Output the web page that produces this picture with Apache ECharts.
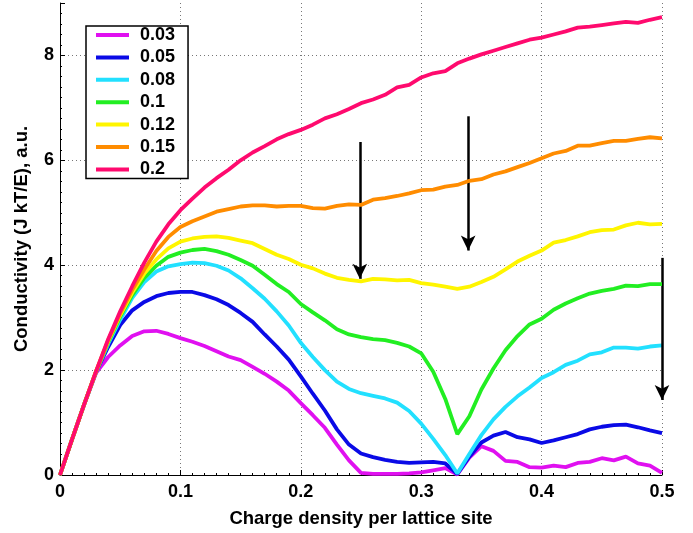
<!DOCTYPE html>
<html>
<head>
<meta charset="utf-8">
<script src="https://cdn.jsdelivr.net/npm/echarts@6/dist/echarts.min.js"></script>
<style>
  html, body { margin: 0; padding: 0; background: #fff; }
  #chart { width: 693px; height: 533px; }
</style>
</head>
<body>
<div id="chart"></div>
<script>
// charge density per lattice site (sample points)
const density = [
  0, 0.01, 0.02, 0.03, 0.04, 0.05, 0.06, 0.07, 0.08, 0.09,
  0.1, 0.11, 0.12, 0.13, 0.14, 0.15, 0.16, 0.17, 0.18, 0.19,
  0.2, 0.21, 0.22, 0.23, 0.24, 0.25, 0.26, 0.27, 0.28, 0.29,
  0.3, 0.31, 0.32, 0.33, 0.34, 0.35, 0.36, 0.37, 0.38, 0.39,
  0.4, 0.41, 0.42, 0.43, 0.44, 0.45, 0.46, 0.47, 0.48, 0.49, 0.5
];

const seriesNames = ['0.03', '0.05', '0.08', '0.1', '0.12', '0.15', '0.2'];
const seriesColors = ['#e010f0', '#0a0ae6', '#22e0ff', '#22ee22', '#fff500', '#ff8c00', '#ff0a6e'];

const cond003 = [0, 0.68, 1.34, 1.95, 2.25, 2.47, 2.65, 2.74, 2.75, 2.69, 2.61, 2.54, 2.46, 2.36, 2.26, 2.19, 2.06, 1.93, 1.78, 1.61, 1.37, 1.14, 0.90, 0.58, 0.28, 0.04, 0.02, 0.02, 0.02, 0.03, 0.05, 0.09, 0.13, 0.01, 0.33, 0.55, 0.46, 0.27, 0.25, 0.15, 0.14, 0.18, 0.15, 0.23, 0.25, 0.32, 0.28, 0.35, 0.22, 0.18, 0.04];
const cond005 = [0, 0.68, 1.34, 1.97, 2.44, 2.86, 3.14, 3.30, 3.41, 3.47, 3.49, 3.49, 3.43, 3.35, 3.24, 3.09, 2.92, 2.68, 2.45, 2.20, 1.88, 1.55, 1.23, 0.87, 0.58, 0.41, 0.34, 0.29, 0.25, 0.23, 0.24, 0.25, 0.22, 0.02, 0.35, 0.62, 0.75, 0.82, 0.72, 0.68, 0.61, 0.66, 0.72, 0.78, 0.87, 0.92, 0.95, 0.96, 0.91, 0.85, 0.80];
const cond008 = [0, 0.68, 1.34, 1.97, 2.50, 2.96, 3.38, 3.68, 3.88, 3.98, 4.02, 4.05, 4.04, 3.99, 3.90, 3.75, 3.56, 3.36, 3.12, 2.85, 2.52, 2.25, 2.00, 1.78, 1.64, 1.56, 1.51, 1.46, 1.38, 1.22, 0.98, 0.69, 0.38, 0.03, 0.40, 0.76, 1.06, 1.30, 1.50, 1.67, 1.85, 1.96, 2.10, 2.18, 2.30, 2.34, 2.43, 2.43, 2.41, 2.45, 2.47];
const cond010 = [0, 0.68, 1.34, 1.97, 2.53, 3.02, 3.43, 3.76, 3.99, 4.16, 4.24, 4.29, 4.31, 4.27, 4.20, 4.10, 3.99, 3.82, 3.64, 3.49, 3.26, 3.10, 2.95, 2.78, 2.68, 2.63, 2.59, 2.57, 2.52, 2.45, 2.32, 1.97, 1.45, 0.78, 1.12, 1.63, 2.03, 2.38, 2.65, 2.87, 2.98, 3.15, 3.27, 3.37, 3.46, 3.51, 3.55, 3.61, 3.60, 3.64, 3.64];
const cond012 = [0, 0.68, 1.34, 1.98, 2.55, 3.05, 3.48, 3.84, 4.11, 4.32, 4.45, 4.51, 4.54, 4.55, 4.52, 4.47, 4.42, 4.31, 4.20, 4.12, 4.01, 3.94, 3.84, 3.76, 3.72, 3.69, 3.74, 3.73, 3.71, 3.72, 3.66, 3.63, 3.59, 3.55, 3.59, 3.68, 3.78, 3.92, 4.07, 4.18, 4.28, 4.43, 4.48, 4.55, 4.63, 4.67, 4.68, 4.76, 4.81, 4.78, 4.79];
const cond015 = [0, 0.68, 1.34, 1.98, 2.57, 3.08, 3.53, 3.92, 4.27, 4.54, 4.73, 4.84, 4.93, 5.02, 5.07, 5.12, 5.14, 5.14, 5.12, 5.13, 5.13, 5.09, 5.08, 5.13, 5.16, 5.15, 5.25, 5.28, 5.32, 5.37, 5.43, 5.44, 5.50, 5.53, 5.61, 5.64, 5.73, 5.79, 5.87, 5.95, 6.04, 6.13, 6.18, 6.28, 6.28, 6.33, 6.37, 6.37, 6.41, 6.44, 6.42];
const cond020 = [0, 0.68, 1.34, 1.98, 2.59, 3.12, 3.60, 4.05, 4.45, 4.78, 5.05, 5.27, 5.48, 5.66, 5.82, 6.00, 6.15, 6.27, 6.40, 6.50, 6.58, 6.68, 6.80, 6.88, 6.98, 7.09, 7.16, 7.25, 7.39, 7.44, 7.58, 7.66, 7.70, 7.85, 7.94, 8.02, 8.09, 8.16, 8.23, 8.30, 8.34, 8.40, 8.46, 8.53, 8.55, 8.58, 8.61, 8.64, 8.62, 8.68, 8.73];

const allValues = [cond003, cond005, cond008, cond010, cond012, cond015, cond020];

// arrows: [x, yStart, yEnd]
const arrows = [
  [0.249, 6.35, 3.74],
  [0.339, 6.84, 4.28],
  [0.5, 4.14, 1.43]
];

const FONT = '"Liberation Sans", Arial, Helvetica, sans-serif';

const chart = echarts.init(document.getElementById('chart'), null, { renderer: 'canvas' });

const lineSeries = seriesNames.map((name, i) => ({
  name: name,
  type: 'line',
  data: density.map((x, j) => [x, allValues[i][j]]),
  showSymbol: false,
  symbol: 'none',
  smooth: false,
  lineStyle: { color: seriesColors[i], width: 3.8 },
  itemStyle: { color: seriesColors[i] },
  z: 2 + i
}));

const arrowSeries = {
  name: 'arrows',
  type: 'line',
  data: [],
  silent: true,
  z: 20,
  markLine: {
    silent: true,
    animation: false,
    symbol: ['none', 'arrow'],
    symbolSize: [11, 15],
    label: { show: false },
    lineStyle: { color: '#000', width: 2.5, type: 'solid' },
    emphasis: { disabled: true },
    data: arrows.map(a => [
      { coord: [a[0], a[1]] },
      { coord: [a[0], a[2]] }
    ])
  }
};

const option = {
  animation: false,
  backgroundColor: '#fff',
  grid: { left: 60, right: 31, top: 3, bottom: 56, containLabel: false },
  legend: {
    data: seriesNames,
    orient: 'vertical',
    left: 86,
    top: 26,
    itemWidth: 33,
    itemHeight: 4,
    itemGap: 4.4,
    icon: 'rect',
    padding: [0, 13, 0, 10],
    borderColor: '#000',
    borderWidth: 1.5,
    backgroundColor: '#fff',
    selectedMode: false,
    textStyle: {
      fontFamily: FONT,
      fontWeight: 'bold',
      fontSize: 18,
      color: '#000',
      padding: [0, 0, 0, 6]
    }
  },
  xAxis: {
    type: 'value',
    min: 0,
    max: 0.5,
    interval: 0.1,
    name: 'Charge density per lattice site',
    nameLocation: 'middle',
    nameGap: 34,
    nameTextStyle: { fontFamily: FONT, fontWeight: 'bold', fontSize: 18.5, color: '#000' },
    axisLine: { show: true, lineStyle: { color: '#000', width: 1 } },
    axisTick: { show: true, inside: true, length: 5, lineStyle: { color: '#000' } },
    minorTick: { show: true, splitNumber: 10, length: 2, lineStyle: { color: '#000' } },
    axisLabel: {
      fontFamily: FONT, fontWeight: 'bold', fontSize: 18, color: '#000', margin: 8,
      formatter: v => String(+v.toFixed(2))
    },
    splitLine: {
      show: true,
      showMinLine: false,
      lineStyle: { color: '#777', width: 1, type: [1, 3] }
    }
  },
  yAxis: {
    type: 'value',
    min: 0,
    max: 9,
    interval: 2,
    name: 'Conductivity (J kT/E), a.u.',
    nameLocation: 'middle',
    nameGap: 29,
    nameTextStyle: { fontFamily: FONT, fontWeight: 'bold', fontSize: 18.5, color: '#000' },
    axisLine: { show: true, lineStyle: { color: '#000', width: 1 } },
    axisTick: { show: true, inside: true, length: 5, lineStyle: { color: '#000' } },
    minorTick: { show: true, splitNumber: 10, length: 2, lineStyle: { color: '#000' } },
    axisLabel: {
      fontFamily: FONT, fontWeight: 'bold', fontSize: 18, color: '#000', margin: 6,
      showMaxLabel: false
    },
    splitLine: {
      show: true,
      showMinLine: false,
      showMaxLine: false,
      lineStyle: { color: '#777', width: 1, type: [1, 3] }
    }
  },
  series: [...lineSeries, arrowSeries]
};

chart.setOption(option);
</script>
</body>
</html>
